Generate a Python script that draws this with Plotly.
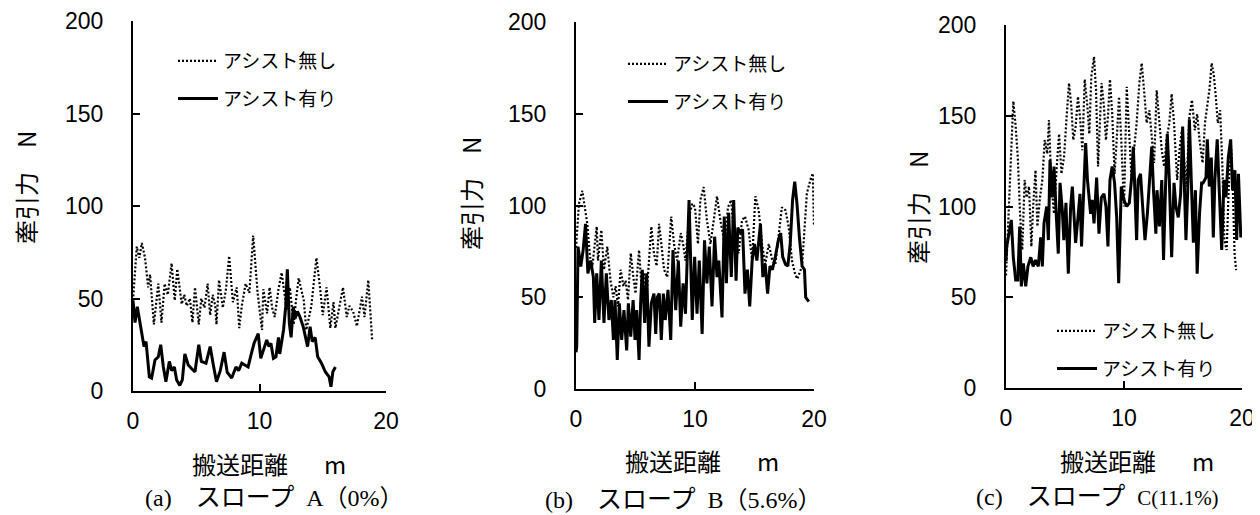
import plotly.graph_objects as go

# ---------------- data ----------------
x_ticks = [0, 10, 20]
y_ticks = [0, 50, 100, 150, 200]
name_off = "アシスト無し"
name_on = "アシスト有り"

# Panel (a) slope A 0%
a_off_x = [0.0, 0.3, 0.5, 0.7, 0.95, 1.2, 1.35, 1.65, 2.0, 2.25, 2.5, 2.75, 3.05, 3.3, 3.5, 3.85, 4.05, 4.25, 4.5, 4.7,
           4.9, 5.2, 5.4, 5.65, 5.9, 6.1, 6.3, 6.5, 6.6, 6.8, 7.1, 7.35, 7.6, 7.9, 8.2, 8.4, 8.6, 8.9, 9.2, 9.5,
           9.85, 10.2, 10.3, 10.6, 10.8, 11.0, 11.2, 11.5, 11.75, 12.15, 12.4, 12.7, 12.9, 13.1, 13.5, 13.7, 14.1, 14.5, 14.8, 15.0,
           15.3, 15.6, 15.85, 16.0, 16.3, 16.6, 16.9, 17.1, 17.4, 17.7, 18.1, 18.3, 18.6, 18.9]
a_off_y = [49, 78, 72, 80, 72, 56, 63, 36, 58, 37, 58, 52, 69, 49, 66, 47, 52, 46, 50, 37,
           56, 36, 50, 45, 58, 41, 52, 46, 36, 60, 45, 55, 73, 48, 56, 34, 46, 58, 53, 84,
           53, 33, 55, 42, 56, 45, 40, 55, 64, 44, 56, 36, 50, 61, 49, 33, 46, 72, 55, 41,
           56, 34, 48, 34, 45, 56, 40, 46, 43, 35, 51, 40, 60, 28]
a_on_x = [0.0, 0.16, 0.34, 0.5, 0.69, 0.87, 1.03, 1.29, 1.47, 1.74, 2.0, 2.19, 2.4, 2.6, 2.87, 3.06, 3.27, 3.45, 3.7, 3.9,
          4.1, 4.37, 4.64, 4.9, 5.2, 5.4, 5.77, 6.1, 6.35, 6.6, 6.9, 7.2, 7.45, 7.8, 8.14, 8.35, 8.6, 8.85, 9.1, 9.33,
          9.57, 9.9, 10.1, 10.4, 10.57, 10.75, 10.9, 11.1, 11.3, 11.5, 11.6, 11.9, 12.07, 12.2, 12.36, 12.5, 12.67, 12.8, 13.0, 13.2,
          13.46, 13.8, 14.0, 14.17, 14.4, 14.6, 14.9, 15.2, 15.5, 15.65, 15.8, 16.0]
a_on_y = [49, 37, 45.6, 39, 33, 24, 26.7, 7.7, 7, 16.8, 18.5, 25, 13, 5, 16, 11, 13, 6, 3, 6,
          20, 14, 12, 10.4, 25, 16, 15, 24, 14, 5, 11, 21, 10, 7, 13, 11, 15, 14, 13, 19.5,
          25.8, 31, 17.7, 24, 27.6, 24, 25.8, 17.7, 18.5, 29, 20, 33, 45.6, 65.8, 36.6, 29, 45.6, 39, 43, 40,
          34.7, 24, 34.7, 26.7, 29, 18.5, 15, 10.4, 7.7, 2.3, 10.4, 13]

# Panel (b) slope B 5.6%
b_off_x = [0.0, 0.25, 0.53, 0.8, 0.95, 1.18, 1.37, 1.74, 1.85, 2.13, 2.35, 2.63, 2.9, 3.14, 3.33, 3.53, 3.75, 3.98, 4.17, 4.37,
           4.6, 4.82, 5.0, 5.3, 5.5, 5.7, 5.94, 6.33, 6.55, 6.78, 6.98, 7.17, 7.4, 7.67, 8.0, 8.24, 8.5, 8.8, 9.0, 9.2,
           9.5, 9.77, 10.0, 10.25, 10.45, 10.73, 11.0, 11.3, 11.57, 11.85, 12.13, 12.5, 12.77, 13.05, 13.3, 13.67, 13.95, 14.2, 14.5, 14.8,
           15.07, 15.35, 15.63, 15.9, 16.2, 16.5, 16.75, 17.1, 17.3, 17.6, 17.87, 18.15, 18.4, 18.6, 19.0, 19.2, 19.4, 19.7, 19.9, 20.0]
b_off_y = [77, 101, 108, 97.5, 90, 72, 66.7, 88.5, 70, 86.6, 65, 77.6, 59, 50, 56, 45, 65, 56, 59, 48.5,
           74, 61, 52, 75.7, 56, 63, 52, 88.5, 74, 67, 90, 79, 65, 61, 94, 79, 70, 85, 79, 70,
           94, 101, 99, 79, 103, 110, 92, 79, 92, 105, 92, 79, 99, 103, 79, 74, 92, 94, 87, 70,
           105, 97.5, 79, 68, 79, 70, 68, 88.5, 99, 97.5, 88.5, 70, 63, 60, 67, 87, 106.6, 114, 117.5, 88.5]
b_on_x = [0.0, 0.06, 0.17, 0.4, 0.6, 0.8, 1.0, 1.23, 1.46, 1.57, 1.74, 1.93, 2.13, 2.35, 2.55, 2.77, 2.97, 3.14, 3.28, 3.47,
          3.64, 3.84, 4.03, 4.26, 4.4, 4.6, 4.8, 4.96, 5.1, 5.3, 5.43, 5.57, 5.77, 5.94, 6.13, 6.33, 6.55, 6.7, 6.83, 7.0,
          7.17, 7.34, 7.5, 7.73, 7.96, 8.15, 8.38, 8.6, 8.8, 9.0, 9.2, 9.5, 9.77, 9.97, 10.17, 10.36, 10.6, 10.8, 11.0, 11.2,
          11.43, 11.65, 11.85, 12.0, 12.27, 12.46, 12.64, 12.83, 13.05, 13.25, 13.45, 13.6, 13.8, 14.0, 14.2, 14.4, 14.6, 14.8, 15.0, 15.2,
          15.5, 15.7, 15.9, 16.1, 16.3, 16.5, 16.75, 17.0, 17.2, 17.37, 17.6, 17.8, 18.0, 18.2, 18.38, 18.57, 18.77, 19.0, 19.2, 19.3, 19.56]
b_on_y = [20, 23, 77.6, 66.7, 75.7, 90, 63, 70, 61, 36, 63, 37.6, 70, 36, 63, 37.6, 48.5, 26.7, 48.5, 15.8,
          46.7, 26.7, 43, 21, 46.7, 28.5, 48.5, 26.7, 43, 15.8, 46.7, 65, 36, 63, 23, 46.7, 52, 30, 50, 52,
          26.7, 52, 37.6, 54, 26.7, 75.7, 43, 70, 34, 57.6, 41, 103, 37.6, 72, 41, 70, 30, 81, 57.6, 77.6,
          45, 83, 61, 70, 39, 94, 57.6, 96, 61, 103, 59, 88, 85, 87, 52, 65, 45, 70, 79, 70,
          90, 61, 68, 52, 67, 65, 72, 81, 85, 72, 68, 67, 79, 103, 113, 101, 83, 67, 65, 50, 47.6]

# Panel (c) slope C 11.1%
c_off_x = [0.0, 0.06, 0.25, 0.45, 0.62, 0.82, 1.0, 1.19, 1.38, 1.58, 1.75, 1.95, 2.15, 2.3, 2.5, 2.66, 2.88, 3.08, 3.28, 3.5,
           3.64, 3.84, 4.07, 4.3, 4.5, 4.7, 4.92, 5.14, 5.34, 5.54, 5.7, 5.9, 6.1, 6.27, 6.47, 6.67, 6.9, 7.06, 7.23, 7.46,
           7.63, 7.8, 7.97, 8.1, 8.3, 8.47, 8.64, 8.81, 9.0, 9.2, 9.38, 9.58, 9.77, 10.0, 10.23, 10.45, 10.65, 10.85, 11.07, 11.3,
           11.5, 11.7, 11.92, 12.15, 12.35, 12.55, 12.77, 13.0, 13.2, 13.4, 13.6, 13.84, 14.04, 14.24, 14.5, 14.7, 14.9, 15.1, 15.3, 15.54,
           15.76, 16.0, 16.2, 16.4, 16.66, 16.86, 17.06, 17.23, 17.43, 17.6, 17.76, 17.95, 18.15, 18.36, 18.5, 18.7, 18.87, 19.04, 19.2, 19.37, 19.5]
c_off_y = [62, 72, 100, 140, 158, 144, 127, 96, 76, 114.6, 105, 111, 78, 100, 120, 89, 105, 114.6, 136.6, 129,
           147.6, 112.8, 96, 122, 140, 118, 127.5, 149.5, 168, 155, 136.6, 144, 160.5, 149.5, 131, 170, 155, 140, 171.5, 182.5,
           164, 122, 146, 168, 155, 136.6, 149.5, 170, 151, 118, 136.6, 160.5, 136.6, 100, 166, 136.6, 114.6, 131, 146, 168,
           179, 164, 146, 153, 136.6, 124, 164, 146, 131, 122, 136.6, 146, 162, 146, 114.6, 131, 142, 125.6, 111, 149.5,
           158.7, 142, 151, 136.6, 124, 146, 155, 164, 179, 173, 162, 146, 153, 118, 81.5, 76, 109, 136.6, 114.6, 74, 65]
c_on_x = [0.0, 0.06, 0.25, 0.45, 0.62, 0.82, 1.0, 1.16, 1.3, 1.47, 1.67, 1.86, 2.1, 2.3, 2.5, 2.74, 2.94, 3.08, 3.22, 3.45,
          3.59, 3.73, 3.93, 4.07, 4.27, 4.43, 4.58, 4.77, 4.9, 5.08, 5.28, 5.48, 5.62, 5.76, 5.9, 6.1, 6.27, 6.4, 6.55, 6.75,
          6.9, 7.03, 7.17, 7.3, 7.46, 7.68, 7.88, 8.08, 8.3, 8.47, 8.64, 8.81, 9.0, 9.2, 9.38, 9.55, 9.77, 10.0, 10.23, 10.45,
          10.65, 10.79, 10.93, 11.07, 11.2, 11.4, 11.58, 11.78, 11.98, 12.15, 12.35, 12.5, 12.7, 12.8, 13.0, 13.2, 13.35, 13.53, 13.67, 13.84,
          14.04, 14.24, 14.4, 14.6, 14.8, 14.97, 15.1, 15.25, 15.4, 15.54, 15.7, 15.88, 16.05, 16.2, 16.4, 16.58, 16.7, 16.95, 17.06, 17.23,
          17.4, 17.57, 17.7, 17.9, 18.07, 18.28, 18.47, 18.64, 18.84, 19.04, 19.2, 19.4, 19.55, 19.7, 19.9, 20.0]
c_on_y = [70, 78, 85, 92.6, 72, 59.5, 59.5, 89, 56, 68.7, 56, 67, 72, 67, 70.5, 67, 83, 67, 90.7, 100,
          81.5, 125.6, 105, 122, 94, 74, 113, 98, 81.5, 102, 63, 100, 111, 92.6, 80, 94, 107, 78, 100, 135,
          115, 103.6, 96, 103.6, 90.7, 116, 85, 105, 107, 100, 78, 114.6, 122, 113, 94, 57.7, 111, 103.6, 100, 102,
          116, 133, 103.6, 81.5, 114.6, 118, 100, 81.5, 96, 113, 133, 109, 85, 109, 89, 114.6, 70.5, 113, 140, 114.6,
          72, 113, 100, 94, 107, 144, 111, 81.5, 109, 148, 114.6, 80, 109, 63, 96, 113, 113, 116, 137, 111,
          127, 83, 114.6, 137, 109, 76, 114.6, 105, 127, 137, 109, 120, 81.5, 118, 83, 88]

captions = [
    '(a)\u3000<span style="font-size:25px">スロープ</span>\u2002A（0%）',
    '(b)\u3000<span style="font-size:25px">スロープ</span>\u2002B（5.6%）',
    '(c)\u3000<span style="font-size:25px">スロープ</span>\u2002<span style="font-size:21px">C(11.1%)</span>',
]

# ---------------- layout helpers (the page body has an 8px margin) ----------------
OFF = 8
W, H = 1260 - OFF, 515 - OFF


def fx(px):
    return (px - OFF) / W


def fy(py):
    return 1 - (py - OFF) / H


# pixel geometry measured on the reference: (left, right, top, bottom) of each plot area
panels = [
    dict(off=(a_off_x, a_off_y), on=(a_on_x, a_on_y), box=(133, 386, 21, 391),
         leg=(173, 42), ytitle=(25, 188), xtitle=(269, 463), cap=(274, 497)),
    dict(off=(b_off_x, b_off_y), on=(b_on_x, b_on_y), box=(576, 814, 22, 389),
         leg=(623, 45), ytitle=(470, 194), xtitle=(702, 460), cap=(683, 499)),
    dict(off=(c_off_x, c_off_y), on=(c_on_x, c_on_y), box=(1006, 1242, 25, 388),
         leg=(1052, 312), ytitle=(917, 208), xtitle=(1137, 460), cap=(1097, 496)),
]

JP = "Noto Sans CJK JP"
fig = go.Figure()
layout = dict(template="none", width=W, height=H, autosize=False,
              margin=dict(l=0, r=0, t=0, b=0, pad=0, autoexpand=False),
              paper_bgcolor="white", plot_bgcolor="white", showlegend=True, annotations=[])

for i, p in enumerate(panels):
    n = "" if i == 0 else str(i + 1)
    lg = "legend" + n
    l, r, t, b = p["box"]
    fig.add_trace(go.Scatter(x=p["off"][0], y=p["off"][1], mode="lines", name=name_off,
                             line=dict(color="black", width=2.2, dash="2px,2px"),
                             xaxis="x" + n, yaxis="y" + n, legend=lg, legendgroup=f"off{i}"))
    fig.add_trace(go.Scatter(x=p["on"][0], y=p["on"][1], mode="lines", name=name_on,
                             line=dict(color="black", width=3),
                             xaxis="x" + n, yaxis="y" + n, legend=lg, legendgroup=f"on{i}"))
    common = dict(showline=True, linecolor="black", linewidth=2, ticks="inside",
                  ticklen=7, tickwidth=2, tickcolor="black", showgrid=False, zeroline=False,
                  automargin=False, ticklabeloverflow="allow",
                  tickfont=dict(family="Liberation Sans", size=23, color="black"))
    layout["xaxis" + n] = dict(domain=[fx(l), fx(r)], range=[0, 20], anchor="y" + n,
                               tickvals=x_ticks, ticklabelstandoff=8, **common)
    layout["yaxis" + n] = dict(domain=[fy(b), fy(t)], range=[0, 200], anchor="x" + n,
                               tickvals=y_ticks, ticklabelstandoff=23, **common)
    layout[lg] = dict(x=fx(p["leg"][0]), y=fy(p["leg"][1]), xanchor="left", yanchor="top",
                      bgcolor="rgba(0,0,0,0)", font=dict(family=JP, size=19, color="black"),
                      traceorder="grouped", tracegroupgap=10, itemwidth=40)
    layout["annotations"].append(dict(text="牽引力\u3000N", textangle=-90, xref="paper", yref="paper",
                                      x=fx(p["ytitle"][0]), y=fy(p["ytitle"][1]),
                                      xanchor="center", yanchor="middle", showarrow=False,
                                      font=dict(family=JP, size=24, color="black")))
    layout["annotations"].append(dict(text="搬送距離\u3000\u2002m", xref="paper", yref="paper",
                                      x=fx(p["xtitle"][0]), y=fy(p["xtitle"][1]),
                                      xanchor="center", yanchor="middle", showarrow=False,
                                      font=dict(family=JP, size=24, color="black")))
    layout["annotations"].append(dict(text=captions[i], xref="paper", yref="paper",
                                      x=fx(p["cap"][0]), y=fy(p["cap"][1]),
                                      xanchor="center", yanchor="middle", showarrow=False,
                                      font=dict(family="Liberation Serif, " + JP, size=24, color="black")))

fig.update_layout(**layout)
fig.write_html("out.html")
